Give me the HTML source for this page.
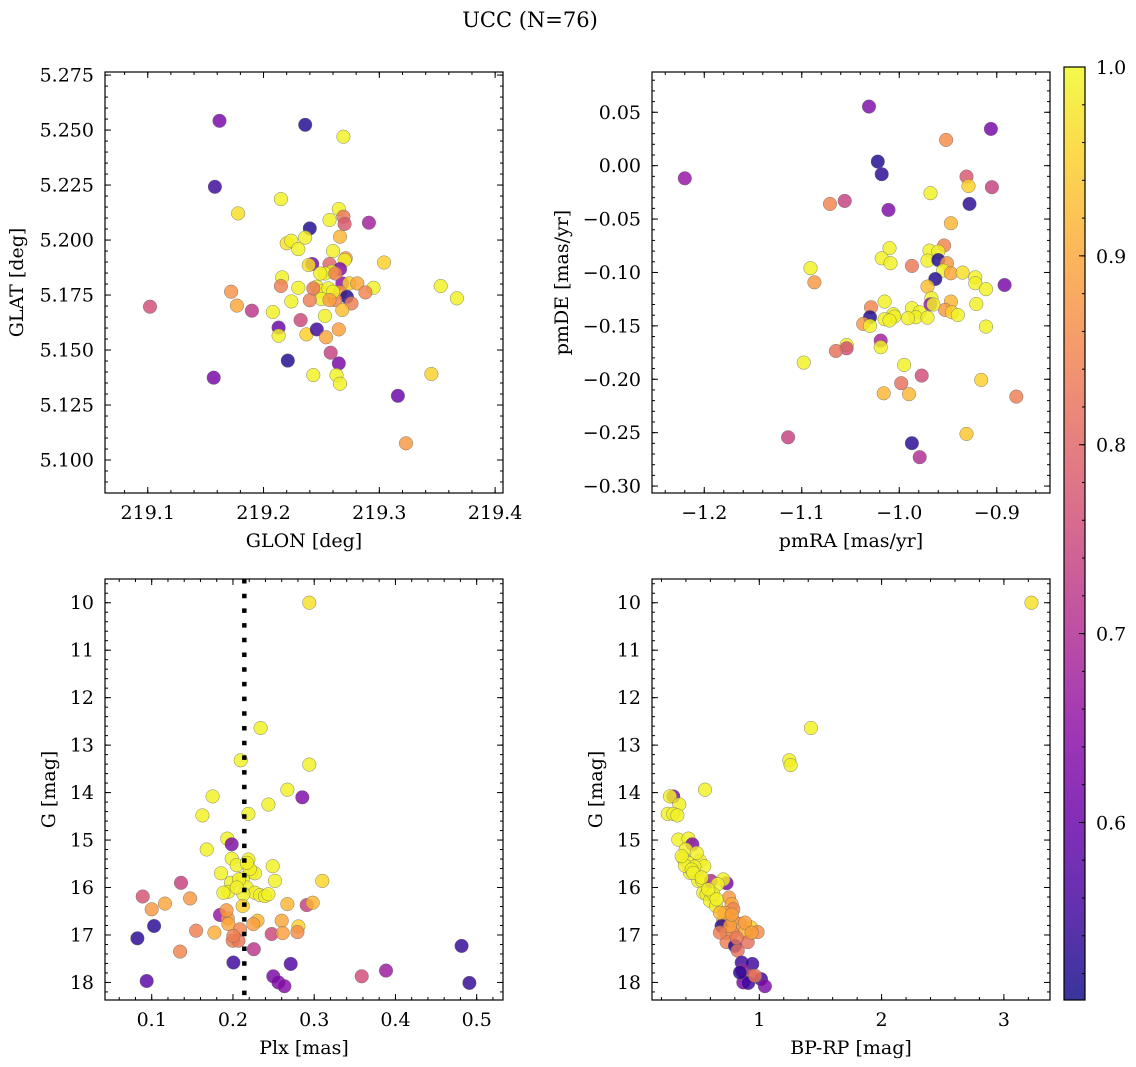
<!DOCTYPE html>
<html><head><meta charset="utf-8">
<style>
html,body{margin:0;padding:0;background:#fff;}
svg{display:block;font-family:"DejaVu Serif","Liberation Serif",serif;}
</style></head>
<body>
<svg id="fig" width="1136" height="1067" viewBox="0 0 1136 1067" xmlns="http://www.w3.org/2000/svg">
<text x="530" y="27" text-anchor="middle" font-size="21">UCC (N=76)</text>
</svg>
<script>
// ---------- Panel 1: GLON vs GLAT ----------
const glon = [219.162,219.236,219.269,219.158,219.215,219.178,219.265,219.269,219.270,219.291,219.240,219.257,219.266,219.220,219.224,219.236,219.230,219.260,219.271,219.270,219.304,219.242,219.239,219.257,219.266,219.259,219.253,219.216,219.215,219.230,219.246,219.249,219.256,219.268,219.274,219.281,219.295,219.288,219.266,219.272,219.276,219.262,219.250,219.240,219.224,219.268,219.353,219.367,219.172,219.177,219.102,219.190,219.208,219.253,219.232,219.213,219.213,219.237,219.246,219.265,219.254,219.258,219.265,219.221,219.157,219.243,219.263,219.266,219.345,219.316,219.323,219.249,219.243,219.260,219.262,219.257];
const glat = [5.2542,5.2524,5.247,5.2242,5.2186,5.2121,5.2141,5.2106,5.2073,5.2079,5.2053,5.2091,5.2015,5.1985,5.1997,5.2011,5.1959,5.195,5.1917,5.1909,5.1898,5.1891,5.1886,5.1891,5.1868,5.1856,5.1848,5.183,5.1791,5.1783,5.1788,5.1768,5.178,5.1803,5.1803,5.1803,5.1783,5.1762,5.1762,5.1742,5.1712,5.1727,5.1732,5.1726,5.1721,5.1682,5.1791,5.1735,5.1765,5.1702,5.1697,5.1679,5.1673,5.1655,5.1636,5.1602,5.1565,5.1571,5.1594,5.1594,5.1558,5.1488,5.1439,5.1452,5.1374,5.1386,5.1386,5.1347,5.1391,5.1292,5.1076,5.1848,5.178,5.1765,5.1848,5.1727];
const prob1 = [0.62,0.52,0.99,0.55,0.99,0.97,0.99,0.83,0.78,0.68,0.52,0.99,0.92,0.97,0.99,0.99,0.99,0.99,0.88,0.99,0.95,0.62,0.97,0.80,0.63,0.99,0.99,0.99,0.84,0.99,0.99,0.99,0.99,0.65,0.95,0.90,0.99,0.85,0.89,0.52,0.84,0.85,0.99,0.84,0.99,0.93,0.99,0.99,0.87,0.90,0.76,0.72,0.99,0.99,0.75,0.60,0.99,0.95,0.55,0.89,0.90,0.74,0.62,0.52,0.62,0.99,0.99,0.99,0.95,0.60,0.88,0.99,0.83,0.99,0.84,0.89];
const p1xTicks = [219.1,219.2,219.3,219.4];
const p1xTickLabels = ["219.1","219.2","219.3","219.4"];
const p1yTicks = [5.100,5.125,5.150,5.175,5.200,5.225,5.250,5.275];
const p1yTickLabels = ["5.100","5.125","5.150","5.175","5.200","5.225","5.250","5.275"];

// ---------- Panel 2: pmRA vs pmDE ----------
const pmra = [-1.031,-0.906,-0.952,-1.022,-1.018,-1.220,-0.931,-0.929,-0.905,-0.968,-1.071,-1.056,-0.928,-1.011,-0.947,-1.010,-0.954,-1.018,-1.009,-0.969,-0.960,-0.971,-0.960,-0.951,-0.987,-1.091,-0.955,-0.947,-0.935,-0.922,-0.963,-1.087,-0.922,-0.911,-0.892,-0.971,-0.967,-0.968,-0.947,-0.921,-1.015,-1.029,-0.953,-0.946,-0.940,-0.987,-0.979,-0.983,-0.991,-0.971,-1.006,-1.005,-1.015,-1.030,-1.037,-1.030,-0.911,-1.019,-1.019,-1.054,-1.054,-1.065,-1.098,-0.995,-0.977,-0.998,-0.916,-0.880,-1.016,-0.990,-1.114,-0.931,-0.987,-0.979,-0.965,-1.010];
const pmde = [0.0553,0.0344,0.0241,0.0038,-0.008,-0.0118,-0.0102,-0.019,-0.0202,-0.0258,-0.0358,-0.033,-0.0358,-0.0414,-0.0539,-0.0773,-0.0748,-0.0867,-0.0913,-0.0795,-0.0805,-0.0889,-0.0883,-0.0913,-0.0939,-0.096,-0.0983,-0.1008,-0.1001,-0.1045,-0.1061,-0.1092,-0.1101,-0.1157,-0.1117,-0.1132,-0.1242,-0.1298,-0.1273,-0.1295,-0.1273,-0.1326,-0.1351,-0.1373,-0.1398,-0.1335,-0.1373,-0.1419,-0.1429,-0.1423,-0.1391,-0.1413,-0.1438,-0.1419,-0.1482,-0.150,-0.1507,-0.1638,-0.170,-0.1679,-0.171,-0.1735,-0.1844,-0.1866,-0.1966,-0.2037,-0.2006,-0.2162,-0.2131,-0.214,-0.2543,-0.2512,-0.2599,-0.273,-0.130,-0.145];
const prob2 = [0.63,0.62,0.86,0.52,0.53,0.66,0.78,0.95,0.74,0.99,0.85,0.74,0.53,0.63,0.92,0.99,0.85,0.99,0.99,0.99,0.99,0.99,0.52,0.88,0.83,0.99,0.99,0.90,0.97,0.99,0.52,0.88,0.99,0.99,0.62,0.93,0.99,0.66,0.92,0.99,0.99,0.85,0.88,0.95,0.99,0.99,0.99,0.99,0.99,0.99,0.99,0.99,0.99,0.52,0.88,0.99,0.99,0.68,0.99,0.99,0.76,0.82,0.99,0.99,0.76,0.82,0.95,0.84,0.92,0.92,0.74,0.94,0.53,0.70,0.99,0.99];
const p2xTicks = [-1.2,-1.1,-1.0,-0.9];
const p2xTickLabels = ["\u22121.2","\u22121.1","\u22121.0","\u22120.9"];
const p2yTicks = [0.05,0.00,-0.05,-0.10,-0.15,-0.20,-0.25,-0.30];
const p2yTickLabels = ["0.05","0.00","\u22120.05","\u22120.10","\u22120.15","\u22120.20","\u22120.25","\u22120.30"];

// ---------- Panel 3: Plx vs G ----------
const plx = [0.294,0.234,0.2095,0.294,0.267,0.2854,0.175,0.2436,0.1624,0.219,0.1931,0.1985,0.1677,0.1985,0.219,0.2046,0.2489,0.223,0.1853,0.227,0.212,0.1976,0.2518,0.31,0.1361,0.2169,0.1943,0.227,0.2333,0.2395,0.2128,0.0889,0.1472,0.1164,0.1,0.212,0.267,0.2908,0.2982,0.1841,0.1935,0.1944,0.2302,0.26,0.1029,0.2087,0.2805,0.1546,0.1771,0.2477,0.2612,0.2793,0.0824,0.1997,0.2067,0.1349,0.2256,0.2005,0.2711,0.2497,0.2559,0.2633,0.0938,0.3585,0.3884,0.4815,0.491,0.2075,0.192,0.2206,0.2046,0.1882,0.2005,0.2436,0.217,0.2251];
const gmag3 = [10.0,12.64,13.32,13.41,13.94,14.10,14.08,14.25,14.48,14.45,14.97,15.09,15.20,15.39,15.41,15.53,15.55,15.67,15.70,15.70,15.81,15.90,15.86,15.86,15.90,16.00,16.09,16.11,16.16,16.18,16.14,16.19,16.23,16.34,16.46,16.39,16.35,16.37,16.32,16.58,16.65,16.77,16.70,16.70,16.81,16.88,16.82,16.91,16.95,16.98,16.96,16.94,17.07,17.12,17.12,17.35,17.30,17.58,17.61,17.87,18.0,18.08,17.97,17.87,17.75,17.23,18.01,15.83,16.48,15.61,16.0,16.11,17.02,16.14,15.48,16.77];
const prob3 = [0.97,0.99,0.99,0.99,0.99,0.63,0.99,0.99,0.99,0.99,0.99,0.63,0.99,0.99,0.99,0.99,0.99,0.99,0.99,0.99,0.99,0.99,0.99,0.96,0.74,0.99,0.99,0.99,0.99,0.99,0.99,0.77,0.88,0.90,0.88,0.95,0.92,0.74,0.92,0.66,0.88,0.90,0.92,0.90,0.53,0.85,0.95,0.84,0.91,0.75,0.89,0.86,0.53,0.84,0.83,0.85,0.72,0.55,0.57,0.62,0.63,0.64,0.58,0.76,0.67,0.54,0.54,0.99,0.88,0.99,0.99,0.99,0.84,0.99,0.99,0.89];
const plxLine = 0.214;
const p3xTicks = [0.1,0.2,0.3,0.4,0.5];
const p3xTickLabels = ["0.1","0.2","0.3","0.4","0.5"];
const gTicks = [10,11,12,13,14,15,16,17,18];
const gTickLabels = ["10","11","12","13","14","15","16","17","18"];

// ---------- Panel 4: BP-RP vs G ----------
const bprp = [3.226,1.422,1.245,1.256,0.556,0.297,0.27,0.346,0.251,0.297,0.33,0.338,0.42,0.452,0.398,0.379,0.42,0.515,0.55,0.469,0.433,0.501,0.534,0.605,0.733,0.706,0.659,0.542,0.569,0.61,0.597,0.646,0.752,0.774,0.787,0.733,0.706,0.692,0.787,0.842,0.932,0.883,0.986,0.733,0.779,0.733,0.905,0.801,0.823,0.856,0.943,0.861,0.937,1.014,0.869,0.91,1.046,0.624,0.392,0.447,0.76,0.719,0.583,0.678,0.815,0.883,0.488,0.365,0.774,0.937,0.842,0.965,0.46,0.529,0.678,0.651];
const gmag4 = [10.0,12.64,13.32,13.42,13.94,14.08,14.08,14.25,14.45,14.45,14.48,14.99,14.97,15.09,15.20,15.39,15.48,15.44,15.55,15.56,15.69,15.86,15.86,15.86,15.91,15.83,15.93,16.11,16.14,16.16,16.28,16.39,16.21,16.35,16.46,16.60,16.70,16.81,16.70,16.77,16.84,16.94,16.94,16.96,16.95,17.15,17.15,17.23,17.33,17.58,17.61,17.75,17.86,17.93,18.0,18.01,18.08,16.14,15.54,15.62,16.81,16.53,16.04,16.53,17.06,16.74,15.27,15.34,16.57,16.95,17.79,17.86,15.69,15.79,16.95,16.25];
const prob4 = [0.97,0.99,0.99,0.99,0.99,0.63,0.99,0.99,0.99,0.99,0.99,0.99,0.99,0.63,0.99,0.99,0.99,0.99,0.99,0.99,0.99,0.99,0.99,0.70,0.62,0.99,0.99,0.99,0.99,0.99,0.99,0.99,0.88,0.90,0.85,0.92,0.92,0.53,0.88,0.88,0.95,0.92,0.86,0.87,0.86,0.84,0.82,0.53,0.82,0.55,0.55,0.68,0.75,0.55,0.62,0.55,0.63,0.99,0.99,0.99,0.89,0.89,0.99,0.92,0.83,0.89,0.99,0.99,0.89,0.89,0.53,0.83,0.99,0.99,0.84,0.99];
const p4xTicks = [1,2,3];
const p4xTickLabels = ["1","2","3"];

// ---------- Colorbar ----------
const cbTicks = [0.6,0.7,0.8,0.9,1.0];
const cbTickLabels = ["0.6","0.7","0.8","0.9","1.0"];
const cMin = 0.506, cMax = 1.0;

const NS = "http://www.w3.org/2000/svg";
const svg = document.getElementById('fig');
const FS = 19;
const plasma = ["#0d0887","#41049d","#6a00a8","#8f0da4","#b12a90","#cc4778","#e16462","#f2844b","#fca636","#fcce25","#f0f921"];
function hex2rgb(h){return [parseInt(h.slice(1,3),16),parseInt(h.slice(3,5),16),parseInt(h.slice(5,7),16)];}
function cmap(v){
  let t=(v-cMin)/(cMax-cMin); t=Math.max(0,Math.min(1,t));
  const f=t*10, i=Math.min(9,Math.floor(f)), r=f-i;
  const a=hex2rgb(plasma[i]), b=hex2rgb(plasma[i+1]);
  return "rgb("+a.map((x,k)=>Math.round(x+(b[k]-x)*r)).join(",")+")";
}
function el(tag, attrs, parent){
  const e=document.createElementNS(NS,tag);
  for(const k in attrs) e.setAttribute(k,attrs[k]);
  (parent||svg).appendChild(e); return e;
}
function linScale(d0,d1,r0,r1){return v=>r0+(v-d0)/(d1-d0)*(r1-r0);}

function panel(o){
  const g=el('g',{});
  
  
  const sx=linScale(o.xr[0],o.xr[1],o.L,o.R), sy=linScale(o.yr[0],o.yr[1],o.B,o.T);
  const clip=el('clipPath',{id:'c'+o.name},g); el('rect',{x:o.L,y:o.T,width:o.R-o.L,height:o.B-o.T},clip);
  const pts=el('g',{'clip-path':'url(#c'+o.name+')'},g);
  for(let i=0;i<o.xs.length;i++){
    const c=el('circle',{cx:sx(o.xs[i]).toFixed(1),cy:sy(o.ys[i]).toFixed(1),r:6.8,fill:cmap(o.cs[i]),'fill-opacity':0.82,stroke:'#666','stroke-width':0.5,'stroke-opacity':0.8},pts);
    
    
  }
  if(o.vline!==undefined){
    const ln=el('line',{x1:sx(o.vline),x2:sx(o.vline),y1:o.T,y2:o.B,stroke:'#000','stroke-width':4.5,'stroke-dasharray':'4.5 10.2'},g);
    
    
  }
  const tk=el('g',{stroke:'#000','stroke-width':1},g);
  const eps=1e-9;
  for(let v=Math.ceil(o.xr[0]/o.xm-eps)*o.xm; v<=o.xr[1]; v+=o.xm){
    const x=sx(v); el('line',{x1:x,x2:x,y1:o.B,y2:o.B-3},tk); el('line',{x1:x,x2:x,y1:o.T,y2:o.T+3},tk);
  }
  const ylo=Math.min(...o.yr), yhi=Math.max(...o.yr);
  for(let v=Math.ceil(ylo/o.ym-eps)*o.ym; v<=yhi; v+=o.ym){
    const y=sy(v); el('line',{x1:o.L,x2:o.L+3,y1:y,y2:y},tk); el('line',{x1:o.R,x2:o.R-3,y1:y,y2:y},tk);
  }
  o.xt.forEach((v,i)=>{
    const x=sx(v); el('line',{x1:x,x2:x,y1:o.B,y2:o.B-6},tk); el('line',{x1:x,x2:x,y1:o.T,y2:o.T+6},tk);
    const t=el('text',{x:x,y:o.B+26,'text-anchor':'middle','font-size':FS},g); t.textContent=o.xtl[i];
    
    
  });
  o.yt.forEach((v,i)=>{
    const y=sy(v); el('line',{x1:o.L,x2:o.L+6,y1:y,y2:y},tk); el('line',{x1:o.R,x2:o.R-6,y1:y,y2:y},tk);
    const t=el('text',{x:o.L-11,y:y+6.5,'text-anchor':'end','font-size':FS},g); t.textContent=o.ytl[i];
    
    
  });
  el('rect',{x:o.L,y:o.T,width:o.R-o.L,height:o.B-o.T,fill:'none',stroke:'#000','stroke-width':1.2},g);
  const xl=el('text',{x:(o.L+o.R)/2,y:o.B+54,'text-anchor':'middle','font-size':FS},g); xl.textContent=o.xlab;
  
  
  const yx=o.ylx, yc=(o.T+o.B)/2;
  const yl=el('text',{x:yx,y:yc,'text-anchor':'middle','font-size':FS,transform:'rotate(-90 '+yx+' '+yc+')'},g); yl.textContent=o.ylab;
  
  
}

panel({name:'glon-glat-panel',L:105,R:503,T:72,B:493,xr:[219.0631,219.4068],yr:[5.085,5.2764],xs:glon,ys:glat,cs:prob1,
  xt:p1xTicks,xtl:p1xTickLabels,yt:p1yTicks,ytl:p1yTickLabels,xm:0.02,ym:0.005,xlab:'GLON [deg]',ylab:'GLAT [deg]',ylx:23});
panel({name:'pm-panel',L:652,R:1050,T:72,B:493,xr:[-1.2536,-0.8454],yr:[-0.3065,0.0877],xs:pmra,ys:pmde,cs:prob2,
  xt:p2xTicks,xtl:p2xTickLabels,yt:p2yTicks,ytl:p2yTickLabels,xm:0.02,ym:0.01,xlab:'pmRA [mas/yr]',ylab:'pmDE [mas/yr]',ylx:568});
panel({name:'plx-g-panel',L:105,R:503,T:579,B:1000,xr:[0.0425,0.5324],yr:[18.37,9.5],xs:plx,ys:gmag3,cs:prob3,vline:plxLine,
  xt:p3xTicks,xtl:p3xTickLabels,yt:gTicks,ytl:gTickLabels,xm:0.02,ym:0.2,xlab:'Plx [mas]',ylab:'G [mag]',ylx:55});
panel({name:'cmd-panel',L:652,R:1050,T:579,B:1000,xr:[0.1226,3.377],yr:[18.37,9.5],xs:bprp,ys:gmag4,cs:prob4,
  xt:p4xTicks,xtl:p4xTickLabels,yt:gTicks,ytl:gTickLabels,xm:0.2,ym:0.2,xlab:'BP-RP [mag]',ylab:'G [mag]',ylx:602});

(function(){
  const g=el('g',{});
  
  
  const T=67, B=1000, L=1064, R=1085;
  const sc=linScale(cMin,cMax,B,T);
  const grad=el('linearGradient',{id:'cbg',x1:0,y1:1,x2:0,y2:0},g);
  for(let i=0;i<=20;i++){ el('stop',{offset:i/20,'stop-color':cmap(cMin+(cMax-cMin)*i/20)},grad); }
  el('rect',{x:L,y:T,width:R-L,height:B-T,fill:'url(#cbg)','fill-opacity':0.82},g);
  const tk=el('g',{stroke:'#000','stroke-width':1},g);
  for(let v=0.52; v<=1.0001; v+=0.02){ const y=sc(v); el('line',{x1:R,x2:R-3,y1:y,y2:y},tk); }
  cbTicks.forEach((v,i)=>{
    const y=sc(v); el('line',{x1:R,x2:R-6,y1:y,y2:y},tk);
    const t=el('text',{x:R+11,y:y+7,'font-size':FS},g); t.textContent=cbTickLabels[i];
    
    
  });
  el('rect',{x:L,y:T,width:R-L,height:B-T,fill:'none',stroke:'#000','stroke-width':1.2},g);
})();
</script>
</body></html>
